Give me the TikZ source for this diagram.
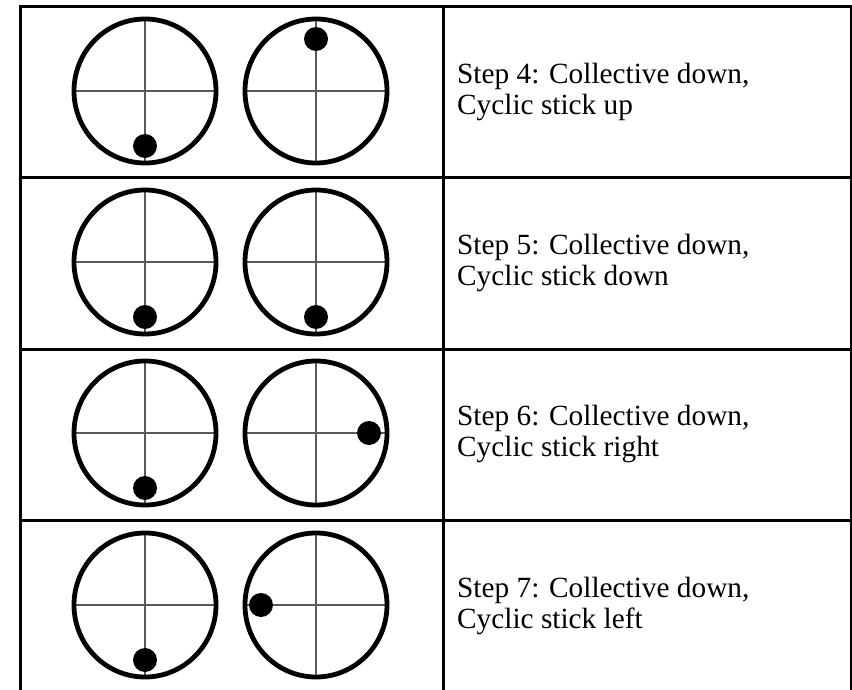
\documentclass[tikz,border=0pt]{standalone}
\usepackage{fontspec}
\setmainfont{Liberation Serif}
\usetikzlibrary{calc}
\newcommand{\mygauge}[4]{%
  \coordinate (#1) at (#2,#3);
  \draw[cross] ($(#1)+(-71,0)$) -- ($(#1)+(71,0)$);
  \draw[cross] ($(#1)+(0,-72)$) -- ($(#1)+(0,72)$);
  \draw[ring] (#1) ellipse [x radius=71, y radius=72];
  \fill[dot] ($(#1)+#4$) circle [radius=12];}
\begin{document}
\begin{tikzpicture}[x=1pt,y=-1pt,
  rule/.style={line width=3pt, line cap=rect},
  ring/.style={line width=4.8pt},
  cross/.style={line width=1.4pt, draw=black!65},
  dot/.style={fill=black},
  steptext/.style={anchor=west, align=left, inner sep=0pt,
     font=\fontsize{29.3}{31.5}\selectfont}]
\useasboundingbox (0,0) rectangle (852,690);
% table rules
\draw[rule] (20,7) -- (851,7);
\draw[rule] (20,7) -- (20,694);
\draw[rule] (851,7) -- (851,694);
\draw[rule] (443,7) -- (443,694);
\foreach \yy in {178,349,520} \draw[rule] (20,\yy) -- (851,\yy);
% row 4
\mygauge{a1}{145}{91}{(0,55)}
\mygauge{b1}{316}{91}{(0,-52)}
\node[steptext] (t1) at (457,92) {Step 4: Collective down,\\Cyclic stick up};
% row 5
\mygauge{a2}{145}{262}{(0,55)}
\mygauge{b2}{316}{262}{(0,55)}
\node[steptext] (t2) at (457,263) {Step 5: Collective down,\\Cyclic stick down};
% row 6
\mygauge{a3}{145}{433}{(0,55)}
\mygauge{b3}{316}{433}{(53,0)}
\node[steptext] (t3) at (457,434) {Step 6: Collective down,\\Cyclic stick right};
% row 7
\mygauge{a4}{145}{605}{(0,55)}
\mygauge{b4}{316}{605}{(-55,0)}
\node[steptext] (t4) at (457,606) {Step 7: Collective down,\\Cyclic stick left};
\end{tikzpicture}
\end{document}
